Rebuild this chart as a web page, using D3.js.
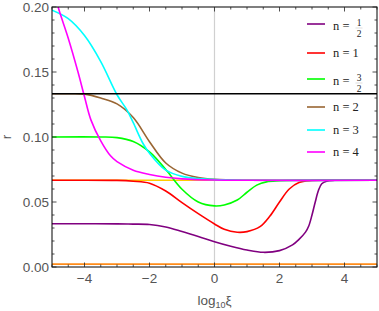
<!DOCTYPE html>
<html>
<head>
<meta charset="utf-8">
<script src="https://cdn.jsdelivr.net/npm/d3@7"></script>
<style>
  body { margin: 0; background: #fff; }
  svg { display: block; }
</style>
</head>
<body>
<div id="chart"></div>
<script>
var xHalf = [-5, -4, -3, -2.5, -2, -1.5, -1, -0.5, 0, 0.5, 1, 1.5, 2, 2.4, 2.6, 2.8, 2.9, 3.0, 3.1, 3.2, 3.3, 3.45, 3.7, 5];
var rHalf = [0.0333, 0.0333, 0.0332, 0.0330, 0.0327, 0.0308, 0.0273, 0.0235, 0.0195, 0.0160, 0.0131, 0.0113, 0.0126, 0.0170, 0.0212, 0.0268, 0.0315, 0.0400, 0.0500, 0.0590, 0.0640, 0.0660, 0.0667, 0.0667];

var xOne = [-5, -3, -2.5, -2, -1.5, -1, -0.5, 0, 0.3, 0.7, 1.0, 1.4, 1.7, 2.0, 2.3, 2.6, 3, 3.5, 5];
var rOne = [0.0667, 0.0666, 0.0660, 0.0645, 0.0585, 0.0495, 0.0410, 0.0331, 0.0290, 0.0267, 0.0272, 0.0310, 0.0390, 0.0500, 0.0600, 0.0650, 0.0665, 0.0667, 0.0667];

var xThreeHalves = [-5, -3.5, -3, -2.5, -2, -1.5, -1, -0.5, 0, 0.3, 0.7, 1.0, 1.3, 1.6, 2, 2.5, 5];
var rThreeHalves = [0.1, 0.1, 0.0995, 0.0965, 0.0885, 0.0750, 0.0598, 0.0500, 0.0470, 0.0477, 0.0515, 0.0575, 0.0630, 0.0655, 0.0663, 0.0667, 0.0667];

var xTwo = [-5, -4.5, -4, -3.5, -3, -2.5, -2, -1.5, -1, -0.5, 0, 1, 5];
var rTwo = [0.1333, 0.1333, 0.1330, 0.1300, 0.1255, 0.1150, 0.0964, 0.0800, 0.0722, 0.0688, 0.0674, 0.0667, 0.0667];

var xThree = [-5, -4.5, -4, -3.5, -3, -2.7, -2.5, -2.2, -2, -1.5, -1, -0.5, 0, 1, 5];
var rThree = [0.1975, 0.1910, 0.1780, 0.1580, 0.1325, 0.1210, 0.1110, 0.0950, 0.0875, 0.0745, 0.0697, 0.0680, 0.0672, 0.0667, 0.0667];

var xFour = [-5, -4.8, -4.5, -4.2, -4, -3.8, -3.5, -3.2, -3, -2.5, -2, -1.5, -1, 0, 1, 5];
var rFour = [0.2180, 0.1990, 0.1760, 0.1500, 0.1310, 0.1130, 0.0970, 0.0855, 0.0810, 0.0745, 0.0712, 0.0690, 0.0678, 0.0669, 0.0667, 0.0667];

var seriesX = [xHalf, xOne, xThreeHalves, xTwo, xThree, xFour];
var seriesR = [rHalf, rOne, rThreeHalves, rTwo, rThree, rFour];
var seriesColors = ["#800080", "#ff0000", "#00ff00", "#996633", "#00ffff", "#ff00ff"];
// legend labels: [whole, numerator, denominator]
var legendLabels = [[null, "1", "2"], ["1", null, null], [null, "3", "2"], ["2", null, null], ["3", null, null], ["4", null, null]];

// horizontal reference levels (1/15, small one near zero, 2/15)
var refLevels = [0.0667, 0.0022, 0.1333];
var refColors = ["#ffcc00", "#ff8c1a", "#000000"];

var xTicks = [-4, -2, 0, 2, 4];
var yTicks = [0.00, 0.05, 0.10, 0.15, 0.20];

var width = 379, height = 311;
var plotLeft = 52, plotRight = 377, plotTop = 7, plotBottom = 267;

var svg = d3.select("#chart").append("svg")
    .attr("width", width)
    .attr("height", height);

var x = d3.scaleLinear().domain([-5, 5]).range([plotLeft, plotRight]);
var y = d3.scaleLinear().domain([0, 0.2]).range([plotBottom, plotTop]);

svg.append("defs").append("clipPath")
    .attr("id", "plot")
  .append("rect")
    .attr("x", plotLeft).attr("y", plotTop)
    .attr("width", plotRight - plotLeft).attr("height", plotBottom - plotTop);

// vertical line at x = 0
svg.append("line")
    .attr("x1", x(0)).attr("x2", x(0))
    .attr("y1", plotTop).attr("y2", plotBottom)
    .attr("stroke", "#d0d0d0")
    .attr("stroke-width", 1.2);

var plot = svg.append("g").attr("clip-path", "url(#plot)");

plot.selectAll(".ref")
    .data(refLevels.slice(0, 2))
    .enter()
    .append("line")
    .attr("x1", plotLeft).attr("x2", plotRight)
    .attr("y1", function(d) { return y(d); })
    .attr("y2", function(d) { return y(d); })
    .attr("stroke", function(d, i) { return refColors[i]; })
    .attr("stroke-width", 1.6);

var line = d3.line()
    .x(function(d) { return x(d[0]); })
    .y(function(d) { return y(d[1]); })
    .curve(d3.curveCatmullRom.alpha(0.5));

plot.selectAll(".curve")
    .data(seriesX)
    .enter()
    .append("path")
    .attr("d", function(xs, i) {
        return line(xs.map(function(v, j) { return [v, seriesR[i][j]]; }));
    })
    .attr("fill", "none")
    .attr("stroke", function(d, i) { return seriesColors[i]; })
    .attr("stroke-width", 1.6);

// black line (2/15) sits above the curves
plot.append("line")
    .attr("x1", plotLeft).attr("x2", plotRight)
    .attr("y1", y(refLevels[2])).attr("y2", y(refLevels[2]))
    .attr("stroke", refColors[2])
    .attr("stroke-width", 1.4);

// frame
svg.append("rect")
    .attr("x", plotLeft).attr("y", plotTop)
    .attr("width", plotRight - plotLeft).attr("height", plotBottom - plotTop)
    .attr("fill", "none")
    .attr("stroke", "#000")
    .attr("stroke-width", 1);

// ticks, all pointing inwards
var ticks = svg.append("g").attr("stroke", "#222").attr("stroke-width", 0.8);
d3.range(-5, 5.01, 0.5).forEach(function(v) {
    var major = Math.abs(v % 2) < 1e-9;
    var len = major ? 4.5 : 2.5;
    ticks.append("line").attr("x1", x(v)).attr("x2", x(v)).attr("y1", plotBottom).attr("y2", plotBottom - len);
    ticks.append("line").attr("x1", x(v)).attr("x2", x(v)).attr("y1", plotTop).attr("y2", plotTop + len);
});
d3.range(0, 0.2001, 0.01).forEach(function(v) {
    var major = Math.round(v * 100) % 5 === 0;
    var len = major ? 4.5 : 2.5;
    ticks.append("line").attr("y1", y(v)).attr("y2", y(v)).attr("x1", plotLeft).attr("x2", plotLeft + len);
    ticks.append("line").attr("y1", y(v)).attr("y2", y(v)).attr("x1", plotRight).attr("x2", plotRight - len);
});

var labelFont = "'Liberation Sans', Arial, sans-serif";

svg.selectAll(".xlab")
    .data(xTicks)
    .enter()
    .append("text")
    .attr("x", function(d) { return x(d); })
    .attr("y", 283)
    .attr("text-anchor", "middle")
    .attr("font-family", labelFont)
    .attr("font-size", 13.5)
    .attr("fill", "#555")
    .text(function(d) { return d < 0 ? "\u2212" + Math.abs(d) : d; });

svg.selectAll(".ylab")
    .data(yTicks)
    .enter()
    .append("text")
    .attr("x", 49)
    .attr("y", function(d) { return y(d) + 5; })
    .attr("text-anchor", "end")
    .attr("font-family", labelFont)
    .attr("font-size", 13.5)
    .attr("fill", "#555")
    .text(function(d) { return d.toFixed(2); });

var xTitle = svg.append("text")
    .attr("x", x(0))
    .attr("y", 305)
    .attr("text-anchor", "middle")
    .attr("font-family", labelFont)
    .attr("font-size", 13.5)
    .attr("fill", "#555");
xTitle.append("tspan").text("log");
xTitle.append("tspan").attr("font-size", 9).attr("dy", 3).text("10");
xTitle.append("tspan").attr("dy", -3).text("\u03be");

svg.append("text")
    .attr("transform", "translate(11,137) rotate(-90)")
    .attr("text-anchor", "middle")
    .attr("font-family", labelFont)
    .attr("font-size", 13.5)
    .attr("fill", "#555")
    .text("r");

// legend
var legendY = [24, 53, 79, 107, 130, 152];
var serif = "'Liberation Serif', 'Times New Roman', serif";
var legend = svg.selectAll(".leg")
    .data(legendLabels)
    .enter()
    .append("g")
    .attr("transform", function(d, i) { return "translate(0," + legendY[i] + ")"; });

legend.append("line")
    .attr("x1", 307).attr("x2", 325)
    .attr("stroke", function(d, i) { return seriesColors[i]; })
    .attr("stroke-width", 1.6);

legend.append("text")
    .attr("x", 333)
    .attr("y", function(d) { return d[0] ? 4 : 6; })
    .attr("font-family", serif)
    .attr("font-size", 12.5)
    .attr("fill", "#222")
    .text(function(d) { return d[0] ? "n = " + d[0] : "n ="; });

var frac = legend.filter(function(d) { return !d[0]; });
frac.append("text")
    .attr("x", 359).attr("y", 2)
    .attr("text-anchor", "middle")
    .attr("font-family", serif).attr("font-size", 9.5).attr("fill", "#222")
    .text(function(d) { return d[1]; });
frac.append("line")
    .attr("x1", 355.5).attr("x2", 362.5)
    .attr("y1", 4).attr("y2", 4)
    .attr("stroke", "#bbb").attr("stroke-width", 0.5);
frac.append("text")
    .attr("x", 359).attr("y", 13)
    .attr("text-anchor", "middle")
    .attr("font-family", serif).attr("font-size", 9.5).attr("fill", "#222")
    .text(function(d) { return d[2]; });
</script>
</body>
</html>
